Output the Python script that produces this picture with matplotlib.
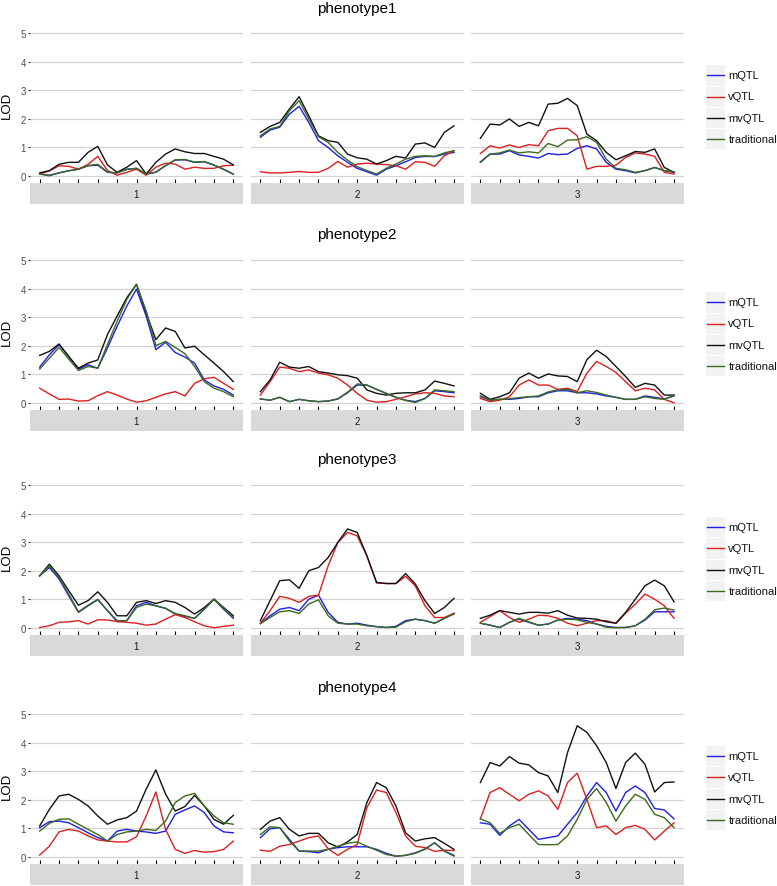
import matplotlib
matplotlib.use("Agg")
import matplotlib.pyplot as plt
import numpy as np
from matplotlib.patches import Rectangle

plt.rcParams['font.family'] = ['Liberation Sans', 'DejaVu Sans']

# marker positions along each chromosome and the scan positions (every half marker)
markers = list(range(11))
pos = np.arange(0, 10.5, 0.5)

phenotypes = ["phenotype1", "phenotype2", "phenotype3", "phenotype4"]
chromosomes = ["1", "2", "3"]
methods = ["mQTL", "vQTL", "mvQTL", "traditional"]
colors = ["#1F1FE6", "#DD1F1F", "#111111", "#3A6B1E"]

# ---- phenotype1 ----
p1_c1_m = [0.06, 0.02, 0.10, 0.18, 0.23, 0.35, 0.37, 0.12, 0.10, 0.23, 0.26, 0.06, 0.12, 0.35, 0.55, 0.56, 0.47, 0.49, 0.37, 0.23, 0.06]
p1_c1_v = [0.06, 0.17, 0.35, 0.33, 0.23, 0.40, 0.68, 0.18, 0.02, 0.12, 0.23, 0.02, 0.30, 0.44, 0.41, 0.23, 0.30, 0.26, 0.26, 0.35, 0.37]
p1_c1_mv = [0.10, 0.18, 0.40, 0.47, 0.47, 0.82, 1.03, 0.38, 0.12, 0.30, 0.53, 0.06, 0.47, 0.76, 0.94, 0.84, 0.78, 0.78, 0.68, 0.58, 0.38]
p1_c1_t = [0.06, 0.00, 0.10, 0.17, 0.23, 0.36, 0.40, 0.13, 0.10, 0.22, 0.26, 0.06, 0.13, 0.36, 0.56, 0.57, 0.48, 0.50, 0.38, 0.22, 0.05]

p1_c2_m = [1.35, 1.60, 1.70, 2.16, 2.43, 1.87, 1.23, 0.99, 0.70, 0.47, 0.26, 0.14, 0.02, 0.23, 0.35, 0.49, 0.64, 0.68, 0.67, 0.76, 0.82]
p1_c2_v = [0.14, 0.10, 0.10, 0.12, 0.15, 0.12, 0.12, 0.26, 0.50, 0.30, 0.41, 0.44, 0.41, 0.39, 0.35, 0.23, 0.49, 0.47, 0.33, 0.70, 0.88]
p1_c2_mv = [1.52, 1.73, 1.87, 2.34, 2.77, 2.10, 1.40, 1.23, 1.17, 0.76, 0.63, 0.58, 0.41, 0.53, 0.68, 0.62, 1.11, 1.15, 0.99, 1.52, 1.75]
p1_c2_t = [1.40, 1.64, 1.73, 2.28, 2.63, 1.99, 1.37, 1.17, 0.82, 0.55, 0.32, 0.18, 0.06, 0.26, 0.41, 0.58, 0.68, 0.70, 0.68, 0.80, 0.88]

p1_c3_m = [0.47, 0.76, 0.76, 0.88, 0.73, 0.68, 0.62, 0.78, 0.74, 0.76, 0.96, 1.05, 0.94, 0.47, 0.23, 0.18, 0.10, 0.18, 0.29, 0.18, 0.12]
p1_c3_v = [0.78, 1.05, 0.97, 1.08, 0.99, 1.09, 1.05, 1.58, 1.66, 1.66, 1.40, 0.23, 0.33, 0.33, 0.37, 0.64, 0.80, 0.76, 0.68, 0.12, 0.06]
p1_c3_mv = [1.31, 1.81, 1.78, 1.99, 1.73, 1.87, 1.75, 2.51, 2.54, 2.71, 2.46, 1.46, 1.23, 0.82, 0.56, 0.70, 0.85, 0.82, 0.94, 0.29, 0.12]
p1_c3_t = [0.49, 0.76, 0.80, 0.90, 0.80, 0.84, 0.80, 1.13, 1.02, 1.25, 1.26, 1.37, 1.17, 0.58, 0.26, 0.21, 0.12, 0.18, 0.29, 0.18, 0.14]

# ---- phenotype2 ----
p2_c1_m = [1.25, 1.68, 2.04, 1.62, 1.18, 1.33, 1.21, 1.92, 2.68, 3.39, 3.98, 3.04, 1.86, 2.12, 1.76, 1.60, 1.39, 0.80, 0.59, 0.47, 0.27]
p2_c1_v = [0.51, 0.31, 0.12, 0.13, 0.06, 0.07, 0.25, 0.39, 0.27, 0.13, 0.02, 0.07, 0.19, 0.31, 0.39, 0.24, 0.68, 0.84, 0.89, 0.68, 0.47]
p2_c1_mv = [1.66, 1.80, 2.06, 1.62, 1.21, 1.39, 1.50, 2.39, 3.04, 3.68, 4.15, 3.15, 2.21, 2.62, 2.50, 1.92, 1.98, 1.68, 1.39, 1.09, 0.74]
p2_c1_t = [1.18, 1.56, 1.94, 1.53, 1.13, 1.27, 1.21, 2.04, 2.86, 3.62, 4.15, 3.21, 2.00, 2.15, 1.94, 1.72, 1.27, 0.74, 0.51, 0.39, 0.21]

p2_c2_m = [0.13, 0.09, 0.19, 0.04, 0.12, 0.07, 0.04, 0.06, 0.13, 0.35, 0.62, 0.62, 0.47, 0.33, 0.19, 0.09, 0.04, 0.15, 0.42, 0.39, 0.35]
p2_c2_v = [0.27, 0.74, 1.25, 1.21, 1.09, 1.15, 1.04, 0.98, 0.86, 0.62, 0.33, 0.09, 0.02, 0.04, 0.12, 0.21, 0.31, 0.35, 0.33, 0.24, 0.21]
p2_c2_mv = [0.39, 0.80, 1.42, 1.25, 1.21, 1.27, 1.09, 1.04, 0.98, 0.95, 0.86, 0.45, 0.33, 0.27, 0.33, 0.35, 0.35, 0.45, 0.76, 0.68, 0.59]
p2_c2_t = [0.14, 0.09, 0.19, 0.04, 0.12, 0.07, 0.04, 0.06, 0.14, 0.37, 0.66, 0.62, 0.47, 0.33, 0.19, 0.08, 0.01, 0.15, 0.45, 0.42, 0.39]

p2_c3_m = [0.21, 0.09, 0.12, 0.12, 0.15, 0.21, 0.21, 0.35, 0.42, 0.42, 0.35, 0.35, 0.31, 0.24, 0.19, 0.12, 0.12, 0.24, 0.19, 0.13, 0.24]
p2_c3_v = [0.15, 0.04, 0.09, 0.21, 0.62, 0.80, 0.62, 0.62, 0.47, 0.51, 0.39, 1.04, 1.45, 1.27, 1.06, 0.74, 0.42, 0.51, 0.45, 0.12, 0.00]
p2_c3_mv = [0.33, 0.12, 0.21, 0.35, 0.86, 1.04, 0.86, 1.01, 0.94, 0.92, 0.74, 1.51, 1.84, 1.62, 1.27, 0.92, 0.54, 0.68, 0.62, 0.27, 0.27]
p2_c3_t = [0.24, 0.09, 0.12, 0.14, 0.18, 0.21, 0.24, 0.38, 0.45, 0.47, 0.35, 0.42, 0.36, 0.27, 0.19, 0.12, 0.12, 0.21, 0.15, 0.12, 0.27]

# ---- phenotype3 ----
p3_c1_m = [1.82, 2.11, 1.71, 1.12, 0.54, 0.77, 0.98, 0.60, 0.21, 0.25, 0.77, 0.89, 0.77, 0.68, 0.48, 0.40, 0.33, 0.65, 1.00, 0.65, 0.33]
p3_c1_v = [0.01, 0.07, 0.19, 0.21, 0.25, 0.13, 0.28, 0.27, 0.22, 0.19, 0.16, 0.09, 0.13, 0.30, 0.46, 0.36, 0.21, 0.07, 0.00, 0.05, 0.09]
p3_c1_mv = [1.82, 2.23, 1.82, 1.30, 0.79, 0.95, 1.26, 0.89, 0.42, 0.42, 0.89, 0.95, 0.85, 0.95, 0.89, 0.71, 0.48, 0.71, 1.00, 0.71, 0.42]
p3_c1_t = [1.82, 2.17, 1.76, 1.18, 0.56, 0.79, 1.00, 0.60, 0.25, 0.25, 0.71, 0.83, 0.77, 0.68, 0.50, 0.42, 0.33, 0.65, 1.00, 0.68, 0.36]

p3_c2_m = [0.16, 0.42, 0.65, 0.71, 0.60, 1.00, 1.14, 0.54, 0.19, 0.13, 0.16, 0.09, 0.04, 0.01, 0.05, 0.25, 0.30, 0.25, 0.16, 0.33, 0.50]
p3_c2_v = [0.16, 0.60, 1.10, 1.03, 0.89, 1.10, 1.14, 2.17, 2.99, 3.34, 3.22, 2.52, 1.57, 1.55, 1.55, 1.80, 1.47, 0.77, 0.36, 0.36, 0.51]
p3_c2_mv = [0.25, 0.95, 1.65, 1.68, 1.38, 2.00, 2.11, 2.46, 2.99, 3.46, 3.34, 2.52, 1.59, 1.55, 1.55, 1.90, 1.53, 0.95, 0.50, 0.71, 1.03]
p3_c2_t = [0.14, 0.36, 0.56, 0.60, 0.50, 0.83, 0.98, 0.42, 0.16, 0.13, 0.13, 0.07, 0.04, 0.01, 0.02, 0.21, 0.30, 0.25, 0.16, 0.33, 0.48]

p3_c3_m = [0.16, 0.09, 0.01, 0.19, 0.30, 0.19, 0.09, 0.13, 0.27, 0.33, 0.30, 0.25, 0.13, 0.05, 0.01, 0.01, 0.07, 0.27, 0.56, 0.56, 0.56]
p3_c3_v = [0.19, 0.39, 0.60, 0.36, 0.19, 0.30, 0.44, 0.42, 0.33, 0.16, 0.07, 0.16, 0.25, 0.25, 0.15, 0.51, 0.83, 1.18, 1.00, 0.77, 0.33]
p3_c3_mv = [0.33, 0.44, 0.60, 0.54, 0.48, 0.54, 0.54, 0.51, 0.60, 0.44, 0.34, 0.33, 0.30, 0.21, 0.16, 0.54, 1.00, 1.47, 1.67, 1.47, 0.91]
p3_c3_t = [0.16, 0.09, 0.01, 0.19, 0.33, 0.21, 0.09, 0.13, 0.27, 0.30, 0.28, 0.19, 0.13, 0.02, 0.00, 0.01, 0.07, 0.30, 0.63, 0.69, 0.62]

# ---- phenotype4 ----
p4_c1_m = [1.02, 1.23, 1.25, 1.19, 1.02, 0.84, 0.67, 0.55, 0.90, 0.96, 0.90, 0.87, 0.82, 0.90, 1.49, 1.64, 1.78, 1.55, 1.08, 0.87, 0.84]
p4_c1_v = [0.06, 0.37, 0.87, 0.96, 0.90, 0.73, 0.59, 0.55, 0.52, 0.52, 0.70, 1.43, 2.27, 0.96, 0.26, 0.12, 0.22, 0.16, 0.18, 0.26, 0.55]
p4_c1_mv = [1.08, 1.66, 2.13, 2.19, 2.01, 1.78, 1.43, 1.14, 1.29, 1.37, 1.60, 2.37, 3.04, 2.20, 1.60, 1.76, 2.15, 1.78, 1.31, 1.14, 1.45]
p4_c1_t = [0.90, 1.17, 1.31, 1.33, 1.14, 0.96, 0.78, 0.55, 0.78, 0.87, 0.90, 0.96, 0.92, 1.25, 1.90, 2.13, 2.22, 1.78, 1.43, 1.19, 1.14]

p4_c2_m = [0.67, 0.98, 1.02, 0.61, 0.20, 0.18, 0.14, 0.26, 0.32, 0.35, 0.35, 0.35, 0.26, 0.12, 0.02, 0.05, 0.14, 0.26, 0.49, 0.20, 0.05]
p4_c2_v = [0.23, 0.19, 0.37, 0.43, 0.55, 0.67, 0.73, 0.28, 0.05, 0.26, 0.43, 1.72, 2.34, 2.25, 1.55, 0.73, 0.37, 0.32, 0.19, 0.23, 0.22]
p4_c2_mv = [0.96, 1.25, 1.37, 0.96, 0.73, 0.82, 0.82, 0.49, 0.34, 0.52, 0.78, 1.90, 2.60, 2.42, 1.78, 0.84, 0.55, 0.63, 0.67, 0.47, 0.26]
p4_c2_t = [0.78, 1.05, 1.02, 0.55, 0.20, 0.20, 0.20, 0.26, 0.37, 0.47, 0.52, 0.37, 0.23, 0.08, 0.02, 0.05, 0.12, 0.28, 0.49, 0.20, 0.02]

p4_c3_m = [1.19, 1.14, 0.75, 1.08, 1.31, 0.96, 0.61, 0.67, 0.73, 1.14, 1.55, 2.13, 2.60, 2.25, 1.60, 2.25, 2.48, 2.25, 1.69, 1.64, 1.33]
p4_c3_v = [1.33, 2.25, 2.42, 2.19, 1.96, 2.19, 2.31, 2.13, 1.66, 2.60, 2.93, 2.01, 1.02, 1.08, 0.78, 1.02, 1.10, 0.96, 0.59, 0.90, 1.19]
p4_c3_mv = [2.60, 3.30, 3.18, 3.51, 3.28, 3.22, 2.95, 2.83, 2.25, 3.65, 4.59, 4.36, 3.89, 3.30, 2.39, 3.30, 3.63, 3.24, 2.27, 2.60, 2.62]
p4_c3_t = [1.33, 1.19, 0.82, 1.02, 1.14, 0.78, 0.43, 0.42, 0.43, 0.73, 1.31, 2.01, 2.39, 1.90, 1.25, 1.78, 2.19, 2.01, 1.49, 1.37, 1.02]

lod = {
    (0, 0): [p1_c1_m, p1_c1_v, p1_c1_mv, p1_c1_t],
    (0, 1): [p1_c2_m, p1_c2_v, p1_c2_mv, p1_c2_t],
    (0, 2): [p1_c3_m, p1_c3_v, p1_c3_mv, p1_c3_t],
    (1, 0): [p2_c1_m, p2_c1_v, p2_c1_mv, p2_c1_t],
    (1, 1): [p2_c2_m, p2_c2_v, p2_c2_mv, p2_c2_t],
    (1, 2): [p2_c3_m, p2_c3_v, p2_c3_mv, p2_c3_t],
    (2, 0): [p3_c1_m, p3_c1_v, p3_c1_mv, p3_c1_t],
    (2, 1): [p3_c2_m, p3_c2_v, p3_c2_mv, p3_c2_t],
    (2, 2): [p3_c3_m, p3_c3_v, p3_c3_mv, p3_c3_t],
    (3, 0): [p4_c1_m, p4_c1_v, p4_c1_mv, p4_c1_t],
    (3, 1): [p4_c2_m, p4_c2_v, p4_c2_mv, p4_c2_t],
    (3, 2): [p4_c3_m, p4_c3_v, p4_c3_mv, p4_c3_t],
}

W, H = 777, 887
fig = plt.figure(figsize=(W / 100, H / 100), dpi=100)


def box(x0, y0, w, h):
    # pixel box (top-left origin) -> figure fraction
    return [x0 / W, 1 - (y0 + h) / H, w / W, h / H]


col_x = [30, 250.7, 470.7]
panel_w = 213
row_top = [26.9, 253.9, 478.9, 707.9]
panel_h = 157
strip_h = 21.5
title_y = [9, 235, 460, 688.3]

for r, ph in enumerate(phenotypes):
    for c, chrom in enumerate(chromosomes):
        ax = fig.add_axes(box(col_x[c], row_top[r], panel_w, panel_h))
        for vals, col in zip(lod[(r, c)], colors):
            ax.plot(pos, vals, color=col, lw=1.0, solid_joinstyle='round')
        ax.set_xlim(-0.5, 10.5)
        ax.set_ylim(-0.25, 5.25)
        ax.set_yticks(range(6))
        ax.set_xticks(markers)
        ax.yaxis.grid(True, color='#D4D4D4', lw=0.9)
        ax.set_axisbelow(True)
        for s in ax.spines.values():
            s.set_visible(False)
        ax.tick_params(axis='x', direction='in', length=2.6, width=0.8,
                       color='black', labelbottom=False)
        if c == 0:
            ax.tick_params(axis='y', length=1.6, width=0.8, color='#333333',
                           labelcolor='#4D4D4D', labelsize=7, pad=1.5)
        else:
            ax.tick_params(axis='y', length=0, labelleft=False)

        sx = fig.add_axes(box(col_x[c], row_top[r] + panel_h, panel_w, strip_h))
        sx.set_facecolor('#D9D9D9')
        sx.set_xticks([])
        sx.set_yticks([])
        for s in sx.spines.values():
            s.set_visible(False)
        sx.text(0.5, 0.5, chrom, ha='center', va='center', fontsize=7,
                color='#1A1A1A', transform=sx.transAxes)

    # y axis title
    fig.text(7 / W, 1 - (row_top[r] + panel_h / 2) / H, "LOD", rotation=90,
             ha='center', va='center', fontsize=9.5)

    fig.text((30 + 683.3) / 2 / W, 1 - title_y[r] / H, ph, ha='center',
             va='center', fontsize=11)

    # legend
    lg = fig.add_axes(box(700, 0, 77, H))
    lg.set_xlim(700, 777)
    lg.set_ylim(H, 0)
    lg.axis('off')
    for k, (name, col) in enumerate(zip(methods, colors)):
        cy = row_top[r] + 49.3 + 21.3 * k
        lg.add_patch(Rectangle((706, cy - 10), 19.5, 20.3, facecolor='#F2F2F2',
                               edgecolor='none'))
        lg.plot([707.5, 724], [cy, cy], color=col, lw=1.0)
        lg.text(728.3, cy, name, ha='left', va='center', fontsize=8,
                color='#111111')

fig.savefig("out.png", dpi=100)
